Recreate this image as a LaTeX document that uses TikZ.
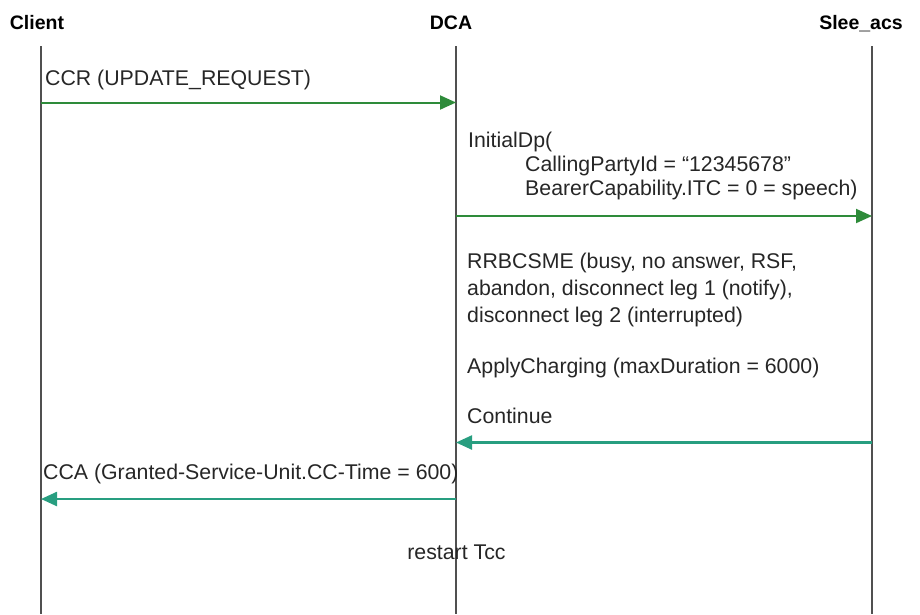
\documentclass[tikz,border=0pt]{standalone}
\usepackage{fontspec}
\setmainfont{Liberation Sans}
\usetikzlibrary{arrows.meta}
\definecolor{msggreen}{RGB}{46,139,58}
\definecolor{msgteal}{RGB}{40,158,128}
\definecolor{lifegray}{RGB}{80,80,80}
\tikzset{
  lifeline/.style={draw=lifegray,line width=2pt},
  head/.style={inner sep=0pt,anchor=base,font=\fontsize{19.5}{23}\selectfont\bfseries},
  lbl/.style={inner sep=0pt,anchor=base west,font=\fontsize{21.3}{26}\selectfont,text=black!85},
  reqmsg/.style={draw=msggreen,line width=2pt,-{Triangle[length=16pt,width=14pt]},color=msggreen},
  ansmsg/.style={draw=msgteal,line width=2.4pt,-{Triangle[length=16pt,width=14pt]},color=msgteal}
}
\begin{document}
\begin{tikzpicture}[x=1pt,y=-1pt]
\useasboundingbox (0,0) rectangle (920,614);
% headers
\node[head] (hclient) at (37,29) {Client};
\node[head] (hdca) at (451,29) {DCA};
\node[head] (hslee) at (861,29) {Slee\_acs};
% lifelines
\coordinate (ctop) at (41,46); \coordinate (cbot) at (41,614);
\coordinate (dtop) at (456,46); \coordinate (dbot) at (456,614);
\coordinate (stop) at (872,46); \coordinate (sbot) at (872,614);
\draw[lifeline] (ctop) -- (cbot);
\draw[lifeline] (dtop) -- (dbot);
\draw[lifeline] (stop) -- (sbot);
% message anchors
\coordinate (c1) at (41,102.5); \coordinate (d1) at (456,102.5);
\coordinate (d2) at (456,216); \coordinate (s2) at (872,216);
\coordinate (s3) at (872,442.5); \coordinate (d3) at (456,442.5);
\coordinate (d4) at (456,499); \coordinate (c4) at (41,499);
% labels
\node[lbl] (ccr) at (45,85) {CCR (UPDATE\_REQUEST)};
\node[lbl] (idp1) at (468,147) {InitialDp(};
\node[lbl] (idp2) at (525,171) {CallingPartyId = “12345678”};
\node[lbl] (idp3) at (525,195) {BearerCapability.ITC = 0 = speech)};
\node[lbl] (rr1) at (467,268) {RRBCSME (busy, no answer, RSF,};
\node[lbl] (rr2) at (467,295) {abandon, disconnect leg 1 (notify),};
\node[lbl] (rr3) at (467,322) {disconnect leg 2 (interrupted)};
\node[lbl] (ac) at (467,373) {ApplyCharging (maxDuration = 6000)};
\node[lbl] (cont) at (467,423) {Continue};
\node[lbl] (cca) at (43,479) {CCA (Granted-Service-Unit.CC-Time = 600)};
\node[lbl,anchor=base] (rtcc) at (456.5,559) {restart Tcc};
% messages
\draw[reqmsg] (c1) -- (d1);
\draw[reqmsg] (d2) -- (s2);
\draw[ansmsg] (s3) -- (d3);
\draw[ansmsg] (d4) -- (c4);
\end{tikzpicture}
\end{document}
